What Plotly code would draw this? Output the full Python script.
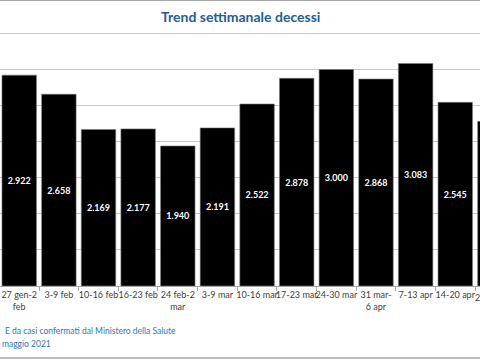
import plotly.graph_objects as go

# --- data ---
weeks = ["27 gen-2<br>feb", "3-9 feb", "10-16 feb", "16-23 feb", "24 feb-2<br>mar",
         "3-9 mar", "10-16 mar", "17-23 mar", "24-30 mar", "31 mar-<br>6 apr",
         "7-13 apr", "14-20 apr", "21-27 apr"]
deaths = [2922, 2658, 2169, 2177, 1940, 2191, 2522, 2878, 3000, 2868, 3083, 2545, 2282]
title_text = "Trend settimanale decessi"
footer_1 = "E da casi confermati dal Ministero della Salute"
footer_2 = "maggio 2021"

FONT = "Lato"
W, H = 480, 360
MB = 74
x_range = [-0.485, 11.624]
y_range = [0, 3963]

fig = go.Figure()
fig.add_trace(go.Bar(
    x=weeks, y=deaths,
    marker=dict(color="#000000", line=dict(color="#7f7f7f", width=0.6)),
    texttemplate="%{y:,}", textposition="inside", insidetextanchor="middle",
    textangle=0,
    textfont=dict(family=FONT, size=9, color="white", weight="bold"),
    hoverinfo="skip",
))

# label of the last (cut-off) category, placed where its tick would be
idx_last = len(weeks) - 1
x_last_paper = (idx_last - x_range[0]) / (x_range[1] - x_range[0])

fig.update_layout(
    width=W, height=H, autosize=False,
    margin=dict(l=0, r=0, t=0, b=MB, pad=0, autoexpand=False),
    paper_bgcolor="white", plot_bgcolor="white",
    separators=",.",
    showlegend=False,
    bargap=0.13,
    font=dict(family=FONT, color="#404040"),
    xaxis=dict(
        type="category", range=x_range, tickangle=0, automargin=False,
        tickson="boundaries", ticks="outside", ticklen=4, tickcolor="#a6a6a6",
        showline=True, linecolor="#a6a6a6", linewidth=1,
        tickfont=dict(family=FONT, size=9, color="#404040"),
        showgrid=False, fixedrange=True,
    ),
    yaxis=dict(
        range=y_range, dtick=500, showticklabels=False, ticks="", automargin=False,
        showgrid=True, gridcolor="#c8c8c8", gridwidth=1,
        zeroline=False, showline=False, fixedrange=True,
    ),
    annotations=[
        dict(text="<b>" + title_text + "</b>", xref="paper", yref="paper",
             x=0.5, y=1, yshift=-16, xanchor="center", yanchor="middle",
             showarrow=False, font=dict(family=FONT, size=14, color="#1f5c99")),
        dict(text=weeks[idx_last], xref="paper", yref="paper",
             x=x_last_paper, y=0, yshift=-11, xanchor="center", yanchor="middle",
             showarrow=False, font=dict(family=FONT, size=9, color="#404040")),
        dict(text=footer_1, xref="paper", yref="paper",
             x=0, xshift=3, y=0, yshift=-45, xanchor="left", yanchor="middle",
             showarrow=False, font=dict(family=FONT, size=8.5, color="#2e75b6")),
        dict(text=footer_2, xref="paper", yref="paper",
             x=0, y=0, yshift=-58, xanchor="left", yanchor="middle",
             showarrow=False, font=dict(family=FONT, size=8.5, color="#2e75b6")),
    ],
    shapes=[
        dict(type="line", xref="paper", yref="paper", x0=0, x1=1, y0=1, y1=1,
             line=dict(color="#a6a6a6", width=2)),
        dict(type="line", xref="paper", yref="paper", x0=0, x1=1,
             y0=-(358 - (H - MB)) / (H - MB), y1=-(358 - (H - MB)) / (H - MB),
             line=dict(color="#a6a6a6", width=1.5)),
    ],
)

fig.write_html(
    "out.html",
    config={"displayModeBar": False},
    post_script="document.body.style.margin='0';document.body.style.overflow='hidden';",
)
